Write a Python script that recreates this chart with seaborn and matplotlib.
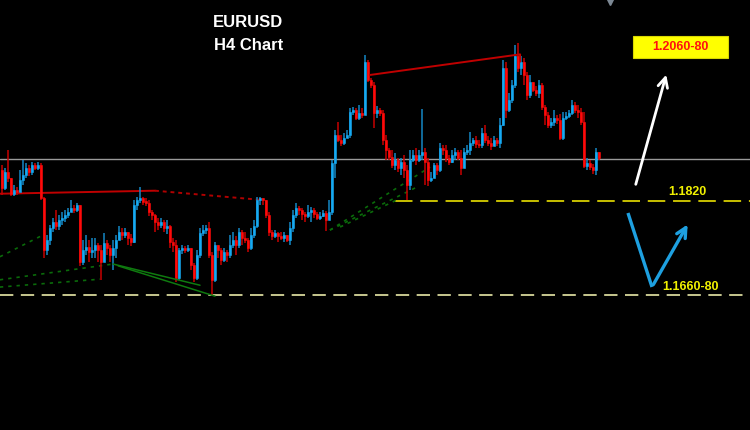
import numpy as np
import matplotlib
matplotlib.use('Agg')
import matplotlib.pyplot as plt
from matplotlib.patches import Rectangle
import seaborn as sns

sns.set_style('dark', {'axes.facecolor': 'black', 'figure.facecolor': 'black'})
plt.rcParams['font.family'] = ['Liberation Sans', 'DejaVu Sans']

# EURUSD H4 candles
first_open = 1.1871
closes = [
    1.1841, 1.1868, 1.1858, 1.1832, 1.1838, 1.1835, 1.1855, 1.1863, 1.1874, 1.1868,
    1.1879, 1.1874, 1.1879, 1.1825, 1.1739, 1.1756, 1.1775, 1.1785, 1.1779, 1.1789,
    1.1792, 1.1797, 1.1802, 1.1808, 1.1805, 1.1813, 1.1719, 1.1739, 1.1744, 1.1736,
    1.1739, 1.1747, 1.1739, 1.1719, 1.1751, 1.1742, 1.1731, 1.1742, 1.1756, 1.1769,
    1.1764, 1.1769, 1.1759, 1.1752, 1.1813, 1.1822, 1.1825, 1.1818, 1.1817, 1.1802,
    1.1797, 1.1785, 1.1780, 1.1785, 1.1775, 1.1779, 1.1752, 1.1747, 1.1693, 1.1739,
    1.1742, 1.1739, 1.1742, 1.1714, 1.1693, 1.1731, 1.1767, 1.1772, 1.1775, 1.1731,
    1.1690, 1.1747, 1.1739, 1.1723, 1.1736, 1.1731, 1.1747, 1.1756, 1.1747, 1.1769,
    1.1759, 1.1756, 1.1742, 1.1764, 1.1779, 1.1822, 1.1825, 1.1822, 1.1797, 1.1769,
    1.1762, 1.1767, 1.1762, 1.1759, 1.1764, 1.1756, 1.1775, 1.1797, 1.1808, 1.1805,
    1.1799, 1.1795, 1.1802, 1.1805, 1.1799, 1.1792, 1.1795, 1.1800, 1.1789, 1.1802,
    1.1883, 1.1929, 1.1921, 1.1916, 1.1924, 1.1929, 1.1967, 1.1970, 1.1957, 1.1965,
    1.1962, 1.2049, 1.2020, 1.2011, 1.1965, 1.1970, 1.1965, 1.1921, 1.1904, 1.1893,
    1.1879, 1.1888, 1.1874, 1.1884, 1.1871, 1.1846, 1.1888, 1.1896, 1.1888, 1.1896,
    1.1901, 1.1884, 1.1855, 1.1858, 1.1879, 1.1871, 1.1907, 1.1904, 1.1891, 1.1884,
    1.1896, 1.1901, 1.1891, 1.1874, 1.1901, 1.1904, 1.1916, 1.1921, 1.1914, 1.1912,
    1.1932, 1.1921, 1.1916, 1.1911, 1.1921, 1.1916, 1.1945, 1.2039, 1.1970, 1.1987,
    1.2011, 1.2059, 1.2039, 1.2049, 1.2028, 1.1995, 1.2016, 1.2003, 1.1998, 1.2011,
    1.1975, 1.1962, 1.1945, 1.1950, 1.1957, 1.1954, 1.1924, 1.1957, 1.1960, 1.1965,
    1.1978, 1.1970, 1.1967, 1.1950, 1.1878, 1.1883, 1.1876, 1.1871, 1.1901, 1.1891,
]
highs = [
    1.1879, 1.1874, 1.1904, 1.1855, 1.1846, 1.1843, 1.1871, 1.1888, 1.1883, 1.1879,
    1.1884, 1.1883, 1.1884, 1.1883, 1.1827, 1.1764, 1.1780, 1.1792, 1.1805, 1.1797,
    1.1802, 1.1805, 1.1808, 1.1822, 1.1813, 1.1817, 1.1813, 1.1756, 1.1764, 1.1756,
    1.1759, 1.1759, 1.1751, 1.1747, 1.1767, 1.1756, 1.1747, 1.1756, 1.1764, 1.1779,
    1.1775, 1.1775, 1.1769, 1.1766, 1.1822, 1.1827, 1.1843, 1.1827, 1.1825, 1.1822,
    1.1805, 1.1799, 1.1792, 1.1792, 1.1789, 1.1789, 1.1780, 1.1759, 1.1756, 1.1742,
    1.1747, 1.1746, 1.1747, 1.1742, 1.1718, 1.1739, 1.1775, 1.1780, 1.1780, 1.1785,
    1.1736, 1.1752, 1.1747, 1.1742, 1.1742, 1.1739, 1.1764, 1.1769, 1.1762, 1.1775,
    1.1772, 1.1769, 1.1759, 1.1775, 1.1789, 1.1827, 1.1827, 1.1825, 1.1822, 1.1802,
    1.1772, 1.1772, 1.1769, 1.1769, 1.1769, 1.1764, 1.1785, 1.1805, 1.1817, 1.1812,
    1.1808, 1.1802, 1.1813, 1.1810, 1.1808, 1.1802, 1.1802, 1.1805, 1.1804, 1.1822,
    1.1888, 1.1937, 1.1950, 1.1929, 1.1932, 1.1937, 1.1973, 1.1975, 1.1973, 1.1978,
    1.1973, 1.2061, 1.2053, 1.2023, 1.2016, 1.1977, 1.1973, 1.1970, 1.1929, 1.1907,
    1.1904, 1.1899, 1.1891, 1.1891, 1.1896, 1.1879, 1.1904, 1.1904, 1.1907, 1.1904,
    1.1972, 1.1907, 1.1891, 1.1868, 1.1883, 1.1883, 1.1916, 1.1912, 1.1912, 1.1896,
    1.1904, 1.1907, 1.1904, 1.1904, 1.1907, 1.1912, 1.1934, 1.1924, 1.1927, 1.1921,
    1.1940, 1.1945, 1.1927, 1.1924, 1.1927, 1.1924, 1.1957, 1.2053, 1.2049, 1.1998,
    1.2020, 1.2077, 1.2081, 1.2059, 1.2056, 1.2033, 1.2028, 1.2015, 1.2010, 1.2020,
    1.2015, 1.1978, 1.1967, 1.1957, 1.1970, 1.1962, 1.1964, 1.1967, 1.1967, 1.1970,
    1.1987, 1.1983, 1.1978, 1.1973, 1.1967, 1.1891, 1.1888, 1.1881, 1.1907, 1.1901,
]
lows = [
    1.1830, 1.1838, 1.1851, 1.1828, 1.1828, 1.1830, 1.1835, 1.1846, 1.1858, 1.1861,
    1.1863, 1.1871, 1.1871, 1.1822, 1.1726, 1.1731, 1.1747, 1.1769, 1.1772, 1.1772,
    1.1780, 1.1785, 1.1792, 1.1802, 1.1800, 1.1802, 1.1713, 1.1714, 1.1731, 1.1719,
    1.1726, 1.1726, 1.1719, 1.1690, 1.1739, 1.1731, 1.1719, 1.1706, 1.1726, 1.1756,
    1.1756, 1.1759, 1.1747, 1.1746, 1.1751, 1.1805, 1.1817, 1.1813, 1.1812, 1.1795,
    1.1789, 1.1769, 1.1772, 1.1775, 1.1769, 1.1766, 1.1742, 1.1736, 1.1686, 1.1690,
    1.1733, 1.1734, 1.1736, 1.1706, 1.1686, 1.1690, 1.1726, 1.1762, 1.1766, 1.1726,
    1.1663, 1.1686, 1.1726, 1.1714, 1.1719, 1.1719, 1.1726, 1.1742, 1.1731, 1.1742,
    1.1747, 1.1751, 1.1736, 1.1739, 1.1759, 1.1775, 1.1813, 1.1813, 1.1792, 1.1762,
    1.1756, 1.1759, 1.1752, 1.1756, 1.1752, 1.1752, 1.1747, 1.1769, 1.1792, 1.1797,
    1.1789, 1.1785, 1.1792, 1.1785, 1.1792, 1.1789, 1.1789, 1.1794, 1.1771, 1.1792,
    1.1797, 1.1858, 1.1917, 1.1911, 1.1912, 1.1924, 1.1924, 1.1962, 1.1954, 1.1954,
    1.1957, 1.1962, 1.2016, 1.2006, 1.1940, 1.1957, 1.1960, 1.1912, 1.1888, 1.1888,
    1.1874, 1.1871, 1.1868, 1.1863, 1.1858, 1.1822, 1.1838, 1.1884, 1.1879, 1.1884,
    1.1888, 1.1846, 1.1845, 1.1851, 1.1863, 1.1863, 1.1868, 1.1896, 1.1884, 1.1879,
    1.1883, 1.1888, 1.1888, 1.1863, 1.1874, 1.1896, 1.1896, 1.1911, 1.1907, 1.1907,
    1.1907, 1.1916, 1.1911, 1.1904, 1.1911, 1.1911, 1.1907, 1.1944, 1.1957, 1.1967,
    1.1982, 1.2006, 1.2033, 1.2028, 1.2011, 1.1987, 1.1990, 1.2000, 1.1993, 1.1990,
    1.1970, 1.1945, 1.1940, 1.1940, 1.1944, 1.1947, 1.1921, 1.1921, 1.1954, 1.1957,
    1.1962, 1.1965, 1.1957, 1.1945, 1.1874, 1.1871, 1.1871, 1.1865, 1.1863, 1.1888,
]

# horizontal levels
pivot_level = 1.1890
support_level = 1.1820
target_low_level = 1.1665

# trend lines: (candle index, price) pairs
red_low_solid = ([-0.7, 51], [1.1832, 1.1837])
red_low_dotted = ([51, 86], [1.1837, 1.1822])
red_top = ([122.7, 172.7, 172.7], [1.2028, 1.2062, 1.2050])
green_solid_a = ([37, 66], [1.1716, 1.1681])
green_solid_b = ([38.7, 71], [1.1713, 1.1663])
green_dotted = [
    ([-0.7, 13.7], [1.1728, 1.1764]),
    ([-0.7, 37], [1.1690, 1.1716]),
    ([-0.7, 32.7], [1.1678, 1.1691]),
    ([109.3, 142.7], [1.1772, 1.1876]),
    ([109.3, 138.3], [1.1772, 1.1843]),
    ([112.7, 131.7], [1.1777, 1.1822]),
]

closes = np.array(closes)
highs = np.array(highs)
lows = np.array(lows)
opens = np.r_[first_open, closes[:-1]]
idx = np.arange(len(closes))

fig = plt.figure(figsize=(7.5, 4.3), dpi=100)
ax = fig.add_axes([0, 0, 1, 1])
ax.set_facecolor('black')

up = closes >= opens
body_col = np.where(up, '#16aaf2', '#ff0a0a')
wick_col = np.where(up, '#1487c4', '#c80000')
body_low = np.minimum(opens, closes)
body_h = np.maximum(np.abs(closes - opens), 0.00022)
ax.vlines(idx, np.minimum(lows, body_low), np.maximum(highs, body_low + body_h),
          colors=wick_col, lw=1.1, zorder=3)
ax.bar(idx, body_h, bottom=body_low, width=0.92, color=body_col, edgecolor=body_col,
       linewidth=0.4, zorder=4)

# levels
ax.axhline(pivot_level, color='#9a9a9a', lw=1.0, zorder=2)
ax.plot([131, 250], [support_level] * 2, color='#c8c000', lw=1.4,
        dashes=(9, 4), zorder=2)
ax.axhline(target_low_level, color='#e8e8a8', lw=1.2, dashes=(8, 4.5), zorder=2)

# trend lines
sns.lineplot(x=red_low_solid[0], y=red_low_solid[1], ax=ax, color='#c00000', lw=1.4, zorder=2)
sns.lineplot(x=red_low_dotted[0], y=red_low_dotted[1], ax=ax, color='#b00000', lw=1.4,
             linestyle=(0, (2, 2)), zorder=2)
ax.plot(red_top[0], red_top[1], color='#c00000', lw=1.4, zorder=5)
for xs, ys in [green_solid_a, green_solid_b]:
    sns.lineplot(x=xs, y=ys, ax=ax, color='#0f7a0f', lw=1.1, zorder=5)
for xs, ys in green_dotted:
    sns.lineplot(x=xs, y=ys, ax=ax, color='#0a6a0a', lw=1.2, linestyle=(0, (2, 3)), zorder=2)

ax.set_xlim(-0.667, 249.333)
ax.set_ylim(1.144215, 1.215165)
ax.set_xticks([])
ax.set_yticks([])
ax.set_xlabel('')
ax.set_ylabel('')
for s in ax.spines.values():
    s.set_visible(False)

# titles
ax.text(0.330, 0.947, 'EURUSD', transform=ax.transAxes, color='white', fontsize=12,
        fontweight='bold', ha='center', va='center')
ax.text(0.331, 0.895, 'H4 Chart', transform=ax.transAxes, color='white', fontsize=12,
        fontweight='bold', ha='center', va='center')

# small marker at the top edge
ax.plot([0.813], [0.997], transform=ax.transAxes, marker='v', ms=6, color='#7c8894',
        clip_on=False, zorder=6)

# target box
ax.add_patch(Rectangle((0.844, 0.8651), 0.1267, 0.0512, transform=ax.transAxes,
                       facecolor='#ffff00', edgecolor='#d8d800', lw=0.8, zorder=6))
ax.text(0.9067, 0.8907, '1.2060-80', transform=ax.transAxes, color='#ff1010', fontsize=9,
        fontweight='bold', ha='center', va='center', zorder=7)
ax.text(0.9167, 0.5535, '1.1820', transform=ax.transAxes, color='#f0f000', fontsize=9,
        fontweight='bold', ha='center', va='center')
ax.text(0.9213, 0.3326, '1.1660-80', transform=ax.transAxes, color='#f0f000', fontsize=9,
        fontweight='bold', ha='center', va='center')

# arrows
ax.annotate('', xy=(0.8893, 0.8326), xytext=(0.8467, 0.5651), xycoords='axes fraction',
            arrowprops=dict(arrowstyle='->,head_length=0.7,head_width=0.35', color='white', lw=2))
ax.plot([0.8373, 0.8693], [0.5047, 0.3326], transform=ax.transAxes, color='#1ea0e0',
        lw=2.4, solid_capstyle='butt')
ax.annotate('', xy=(0.9187, 0.4837), xytext=(0.8693, 0.3326), xycoords='axes fraction',
            arrowprops=dict(arrowstyle='->,head_length=0.7,head_width=0.35', color='#1ea0e0', lw=2.4))

fig.savefig('out.png', dpi=100, facecolor='black')
